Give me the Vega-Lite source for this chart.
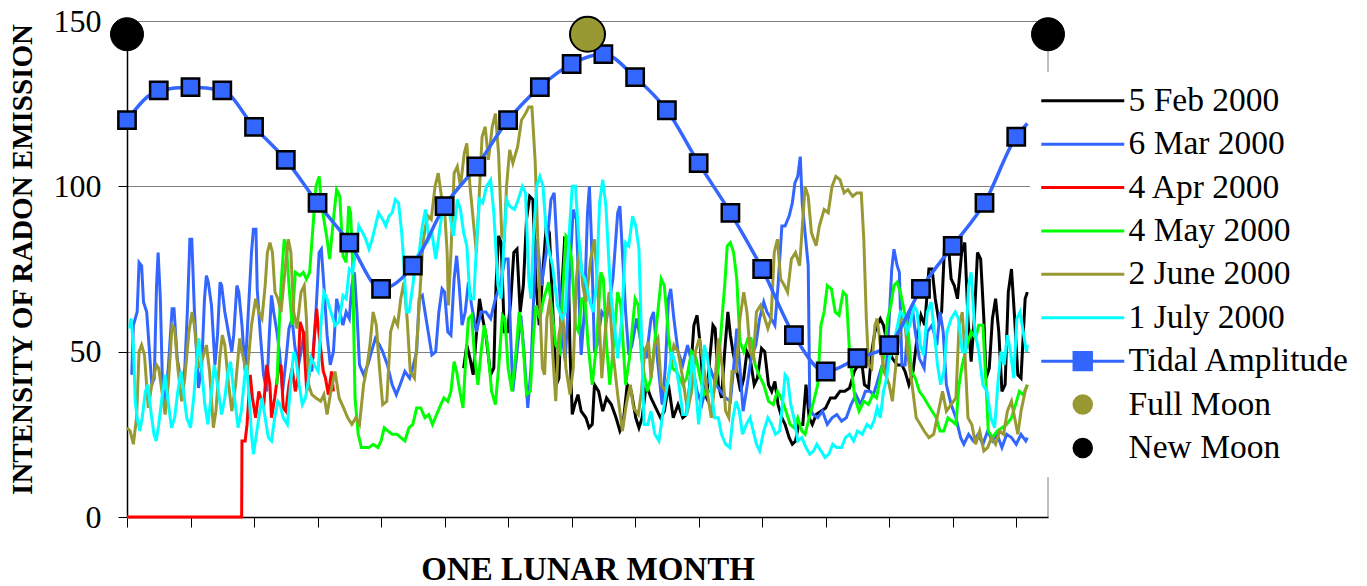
{
"$schema": "https://vega.github.io/schema/vega-lite/v6.json",
"width": 921, "height": 496,
"autosize": {"type": "none"},
"padding": {"left": 127, "top": 21, "right": 319, "bottom": 69},
"background": "white",
"config": {"view": {"stroke": null}},
"datasets": {
"red": [{"d":0,"v":0},{"d":3.61,"v":0},{"d":3.62,"v":23},{"d":3.72,"v":23},{"d":3.78,"v":28},{"d":3.88,"v":43},{"d":3.95,"v":36},{"d":4.05,"v":30},{"d":4.15,"v":38},{"d":4.3,"v":33},{"d":4.4,"v":46},{"d":4.5,"v":40},{"d":4.55,"v":30},{"d":4.65,"v":36},{"d":4.76,"v":44},{"d":4.85,"v":46},{"d":4.92,"v":33},{"d":5.0,"v":32},{"d":5.1,"v":40},{"d":5.2,"v":45},{"d":5.3,"v":38},{"d":5.38,"v":42},{"d":5.45,"v":59},{"d":5.55,"v":56},{"d":5.66,"v":38},{"d":5.75,"v":44},{"d":5.85,"v":48},{"d":5.97,"v":63},{"d":6.05,"v":55},{"d":6.18,"v":44},{"d":6.25,"v":42},{"d":6.34,"v":37},{"d":6.44,"v":44},{"d":6.5,"v":38}],
"mar": [{"d":0.15,"v":43},{"d":0.2,"v":58},{"d":0.32,"v":62},{"d":0.38,"v":77},{"d":0.46,"v":76},{"d":0.52,"v":65},{"d":0.62,"v":62},{"d":0.78,"v":40},{"d":0.86,"v":42},{"d":0.93,"v":70},{"d":0.98,"v":80},{"d":1.05,"v":66},{"d":1.12,"v":39},{"d":1.2,"v":35},{"d":1.3,"v":45},{"d":1.42,"v":63},{"d":1.48,"v":63},{"d":1.58,"v":48},{"d":1.72,"v":40},{"d":1.82,"v":45},{"d":1.9,"v":62},{"d":1.98,"v":84},{"d":2.04,"v":84},{"d":2.12,"v":63},{"d":2.25,"v":39},{"d":2.35,"v":45},{"d":2.44,"v":66},{"d":2.5,"v":73},{"d":2.56,"v":71},{"d":2.66,"v":64},{"d":2.77,"v":46},{"d":2.85,"v":55},{"d":2.93,"v":71},{"d":2.98,"v":70},{"d":3.08,"v":62},{"d":3.3,"v":50},{"d":3.36,"v":55},{"d":3.46,"v":70},{"d":3.52,"v":68},{"d":3.62,"v":58},{"d":3.72,"v":44},{"d":3.82,"v":62},{"d":3.92,"v":80},{"d":3.98,"v":87},{"d":4.06,"v":87},{"d":4.1,"v":69},{"d":4.2,"v":55},{"d":4.3,"v":43},{"d":4.4,"v":38},{"d":4.48,"v":55},{"d":4.55,"v":67},{"d":4.62,"v":62},{"d":4.72,"v":56},{"d":4.8,"v":50},{"d":4.9,"v":38},{"d":5.0,"v":47},{"d":5.1,"v":57},{"d":5.2,"v":60},{"d":5.28,"v":52},{"d":5.38,"v":45},{"d":5.48,"v":50},{"d":5.58,"v":56},{"d":5.7,"v":48},{"d":5.82,"v":44},{"d":5.95,"v":62},{"d":6.05,"v":80},{"d":6.12,"v":81},{"d":6.2,"v":70},{"d":6.3,"v":55},{"d":6.4,"v":46},{"d":6.5,"v":50},{"d":6.6,"v":66},{"d":6.7,"v":62},{"d":6.8,"v":58},{"d":6.9,"v":62},{"d":7.0,"v":60},{"d":7.08,"v":70},{"d":7.16,"v":74},{"d":7.24,"v":62},{"d":7.32,"v":46},{"d":7.45,"v":43},{"d":7.58,"v":46},{"d":7.7,"v":50},{"d":7.82,"v":54},{"d":7.95,"v":52},{"d":8.05,"v":50},{"d":8.2,"v":46},{"d":8.35,"v":40},{"d":8.48,"v":37},{"d":8.6,"v":40},{"d":8.75,"v":44},{"d":8.9,"v":42},{"d":9.02,"v":46},{"d":9.12,"v":50},{"d":9.2,"v":66},{"d":9.3,"v":67},{"d":9.4,"v":61},{"d":9.5,"v":55},{"d":9.6,"v":49},{"d":9.72,"v":50},{"d":9.82,"v":62},{"d":9.92,"v":69},{"d":10.0,"v":68},{"d":10.1,"v":56},{"d":10.2,"v":55},{"d":10.3,"v":72},{"d":10.38,"v":79},{"d":10.46,"v":70},{"d":10.55,"v":58},{"d":10.65,"v":62},{"d":10.75,"v":71},{"d":10.85,"v":64},{"d":11.0,"v":56},{"d":11.15,"v":62},{"d":11.3,"v":62},{"d":11.45,"v":60},{"d":11.6,"v":66},{"d":11.75,"v":70},{"d":11.9,"v":78},{"d":12.0,"v":78},{"d":12.08,"v":55},{"d":12.15,"v":38},{"d":12.28,"v":50},{"d":12.4,"v":61},{"d":12.5,"v":50},{"d":12.62,"v":33},{"d":12.72,"v":45},{"d":12.82,"v":70},{"d":12.9,"v":84},{"d":12.98,"v":78},{"d":13.05,"v":70},{"d":13.2,"v":80},{"d":13.35,"v":96},{"d":13.45,"v":98},{"d":13.55,"v":80},{"d":13.7,"v":55},{"d":13.8,"v":47},{"d":13.92,"v":70},{"d":14.05,"v":93},{"d":14.15,"v":90},{"d":14.22,"v":70},{"d":14.3,"v":49},{"d":14.4,"v":62},{"d":14.5,"v":92},{"d":14.56,"v":100},{"d":14.62,"v":85},{"d":14.72,"v":50},{"d":14.8,"v":52},{"d":14.95,"v":62},{"d":15.1,"v":60},{"d":15.3,"v":72},{"d":15.45,"v":92},{"d":15.52,"v":94},{"d":15.6,"v":80},{"d":15.7,"v":62},{"d":15.8,"v":49},{"d":15.9,"v":52},{"d":16.05,"v":60},{"d":16.2,"v":52},{"d":16.35,"v":48},{"d":16.5,"v":60},{"d":16.58,"v":62},{"d":16.7,"v":48},{"d":16.85,"v":34},{"d":16.95,"v":45},{"d":17.05,"v":66},{"d":17.12,"v":69},{"d":17.22,"v":60},{"d":17.35,"v":50},{"d":17.5,"v":46},{"d":17.65,"v":52},{"d":17.8,"v":46},{"d":17.95,"v":38},{"d":18.1,"v":34},{"d":18.25,"v":40},{"d":18.4,"v":44},{"d":18.55,"v":40},{"d":18.7,"v":38},{"d":18.85,"v":36},{"d":19.0,"v":35},{"d":19.1,"v":45},{"d":19.2,"v":57},{"d":19.3,"v":45},{"d":19.4,"v":32},{"d":19.5,"v":38},{"d":19.65,"v":48},{"d":19.8,"v":52},{"d":19.92,"v":60},{"d":20.05,"v":65},{"d":20.15,"v":62},{"d":20.28,"v":60},{"d":20.4,"v":58},{"d":20.5,"v":70},{"d":20.62,"v":88},{"d":20.72,"v":88},{"d":20.85,"v":91},{"d":20.95,"v":95},{"d":21.03,"v":101},{"d":21.12,"v":103},{"d":21.2,"v":109},{"d":21.26,"v":95},{"d":21.35,"v":86},{"d":21.45,"v":76},{"d":21.5,"v":33},{"d":21.6,"v":31},{"d":21.75,"v":30},{"d":21.9,"v":32},{"d":22.05,"v":28},{"d":22.2,"v":30},{"d":22.35,"v":31},{"d":22.5,"v":29},{"d":22.65,"v":30},{"d":22.8,"v":34},{"d":22.95,"v":37},{"d":23.1,"v":34},{"d":23.25,"v":38},{"d":23.4,"v":38},{"d":23.5,"v":37},{"d":23.6,"v":40},{"d":23.75,"v":45},{"d":23.9,"v":43},{"d":24.0,"v":60},{"d":24.08,"v":75},{"d":24.15,"v":81},{"d":24.25,"v":76},{"d":24.32,"v":74},{"d":24.4,"v":46},{"d":24.5,"v":46},{"d":24.6,"v":60},{"d":24.72,"v":64},{"d":24.82,"v":56},{"d":24.95,"v":48},{"d":25.1,"v":45},{"d":25.2,"v":56},{"d":25.35,"v":58},{"d":25.5,"v":52},{"d":25.6,"v":62},{"d":25.7,"v":56},{"d":25.8,"v":40},{"d":25.95,"v":34},{"d":26.1,"v":30},{"d":26.25,"v":24},{"d":26.35,"v":22},{"d":26.5,"v":25},{"d":26.65,"v":23},{"d":26.8,"v":25},{"d":26.95,"v":22},{"d":27.1,"v":26},{"d":27.25,"v":23},{"d":27.4,"v":25},{"d":27.55,"v":21},{"d":27.7,"v":25},{"d":27.85,"v":24},{"d":28.0,"v":22},{"d":28.15,"v":25},{"d":28.3,"v":23},{"d":28.35,"v":24}],
"jun": [{"d":0.0,"v":27},{"d":0.1,"v":26},{"d":0.2,"v":22},{"d":0.3,"v":30},{"d":0.38,"v":50},{"d":0.46,"v":52},{"d":0.55,"v":49},{"d":0.67,"v":33},{"d":0.78,"v":40},{"d":0.93,"v":46},{"d":1.0,"v":45},{"d":1.1,"v":38},{"d":1.2,"v":31},{"d":1.3,"v":40},{"d":1.42,"v":58},{"d":1.5,"v":57},{"d":1.6,"v":45},{"d":1.72,"v":35},{"d":1.82,"v":42},{"d":1.95,"v":56},{"d":2.05,"v":62},{"d":2.12,"v":58},{"d":2.25,"v":45},{"d":2.38,"v":48},{"d":2.5,"v":52},{"d":2.6,"v":44},{"d":2.72,"v":27},{"d":2.8,"v":32},{"d":2.92,"v":48},{"d":3.0,"v":55},{"d":3.08,"v":52},{"d":3.2,"v":40},{"d":3.3,"v":32},{"d":3.42,"v":40},{"d":3.55,"v":54},{"d":3.62,"v":50},{"d":3.78,"v":43},{"d":3.92,"v":58},{"d":4.05,"v":66},{"d":4.15,"v":62},{"d":4.25,"v":60},{"d":4.35,"v":70},{"d":4.42,"v":80},{"d":4.5,"v":83},{"d":4.58,"v":80},{"d":4.66,"v":68},{"d":4.75,"v":66},{"d":4.85,"v":62},{"d":4.98,"v":75},{"d":5.08,"v":84},{"d":5.16,"v":80},{"d":5.25,"v":62},{"d":5.35,"v":57},{"d":5.48,"v":68},{"d":5.58,"v":70},{"d":5.65,"v":60},{"d":5.72,"v":40},{"d":5.82,"v":37},{"d":5.95,"v":36},{"d":6.1,"v":35},{"d":6.2,"v":37},{"d":6.3,"v":31},{"d":6.42,"v":38},{"d":6.55,"v":44},{"d":6.68,"v":36},{"d":6.82,"v":33},{"d":6.95,"v":30},{"d":7.08,"v":28},{"d":7.2,"v":30},{"d":7.32,"v":28},{"d":7.45,"v":40},{"d":7.55,"v":45},{"d":7.65,"v":52},{"d":7.75,"v":62},{"d":7.85,"v":58},{"d":7.95,"v":45},{"d":8.05,"v":34},{"d":8.18,"v":35},{"d":8.3,"v":56},{"d":8.42,"v":60},{"d":8.52,"v":58},{"d":8.62,"v":66},{"d":8.72,"v":71},{"d":8.82,"v":60},{"d":8.92,"v":44},{"d":9.05,"v":42},{"d":9.15,"v":56},{"d":9.25,"v":72},{"d":9.32,"v":83},{"d":9.4,"v":88},{"d":9.48,"v":91},{"d":9.58,"v":90},{"d":9.7,"v":100},{"d":9.8,"v":104},{"d":9.9,"v":97},{"d":10.0,"v":93},{"d":10.08,"v":80},{"d":10.12,"v":64},{"d":10.2,"v":80},{"d":10.3,"v":104},{"d":10.4,"v":106},{"d":10.5,"v":100},{"d":10.62,"v":110},{"d":10.7,"v":113},{"d":10.8,"v":100},{"d":10.9,"v":90},{"d":11.0,"v":80},{"d":11.08,"v":95},{"d":11.18,"v":115},{"d":11.28,"v":118},{"d":11.38,"v":108},{"d":11.5,"v":118},{"d":11.6,"v":122},{"d":11.7,"v":110},{"d":11.8,"v":85},{"d":11.88,"v":84},{"d":11.95,"v":100},{"d":12.05,"v":111},{"d":12.15,"v":107},{"d":12.3,"v":112},{"d":12.42,"v":120},{"d":12.55,"v":122},{"d":12.65,"v":124},{"d":12.75,"v":124},{"d":12.85,"v":108},{"d":12.95,"v":80},{"d":13.0,"v":64},{"d":13.08,"v":45},{"d":13.15,"v":43},{"d":13.22,"v":60},{"d":13.32,"v":66},{"d":13.4,"v":50},{"d":13.5,"v":35},{"d":13.6,"v":55},{"d":13.72,"v":62},{"d":13.82,"v":45},{"d":13.95,"v":37},{"d":14.05,"v":45},{"d":14.15,"v":72},{"d":14.25,"v":82},{"d":14.35,"v":70},{"d":14.45,"v":65},{"d":14.6,"v":78},{"d":14.72,"v":84},{"d":14.82,"v":70},{"d":14.95,"v":42},{"d":15.05,"v":55},{"d":15.18,"v":68},{"d":15.3,"v":50},{"d":15.45,"v":37},{"d":15.6,"v":26},{"d":15.72,"v":34},{"d":15.85,"v":40},{"d":15.95,"v":33},{"d":16.1,"v":31},{"d":16.2,"v":38},{"d":16.3,"v":50},{"d":16.42,"v":53},{"d":16.5,"v":42},{"d":16.62,"v":52},{"d":16.72,"v":54},{"d":16.82,"v":40},{"d":16.95,"v":38},{"d":17.1,"v":45},{"d":17.22,"v":52},{"d":17.35,"v":50},{"d":17.5,"v":42},{"d":17.65,"v":32},{"d":17.78,"v":38},{"d":17.9,"v":50},{"d":18.02,"v":54},{"d":18.15,"v":46},{"d":18.28,"v":37},{"d":18.4,"v":30},{"d":18.52,"v":42},{"d":18.62,"v":54},{"d":18.75,"v":45},{"d":18.85,"v":32},{"d":18.95,"v":30},{"d":19.05,"v":44},{"d":19.18,"v":44},{"d":19.3,"v":60},{"d":19.42,"v":68},{"d":19.52,"v":62},{"d":19.62,"v":50},{"d":19.72,"v":48},{"d":19.82,"v":62},{"d":19.95,"v":64},{"d":20.05,"v":61},{"d":20.18,"v":57},{"d":20.28,"v":60},{"d":20.38,"v":80},{"d":20.48,"v":84},{"d":20.58,"v":72},{"d":20.7,"v":70},{"d":20.8,"v":68},{"d":20.92,"v":78},{"d":21.05,"v":80},{"d":21.18,"v":76},{"d":21.28,"v":90},{"d":21.35,"v":100},{"d":21.45,"v":97},{"d":21.55,"v":86},{"d":21.7,"v":82},{"d":21.8,"v":88},{"d":21.95,"v":93},{"d":22.08,"v":92},{"d":22.2,"v":100},{"d":22.32,"v":103},{"d":22.45,"v":102},{"d":22.58,"v":98},{"d":22.7,"v":99},{"d":22.85,"v":97},{"d":22.98,"v":98},{"d":23.12,"v":98},{"d":23.2,"v":84},{"d":23.28,"v":60},{"d":23.35,"v":46},{"d":23.45,"v":45},{"d":23.55,"v":58},{"d":23.62,"v":60},{"d":23.72,"v":52},{"d":23.85,"v":44},{"d":24.0,"v":40},{"d":24.1,"v":35},{"d":24.25,"v":50},{"d":24.38,"v":60},{"d":24.48,"v":60},{"d":24.6,"v":48},{"d":24.72,"v":40},{"d":24.85,"v":30},{"d":24.98,"v":28},{"d":25.1,"v":26},{"d":25.25,"v":24},{"d":25.4,"v":25},{"d":25.55,"v":32},{"d":25.68,"v":38},{"d":25.8,"v":32},{"d":25.95,"v":34},{"d":26.1,"v":36},{"d":26.2,"v":58},{"d":26.3,"v":62},{"d":26.38,"v":50},{"d":26.48,"v":30},{"d":26.6,"v":28},{"d":26.72,"v":22},{"d":26.85,"v":26},{"d":26.98,"v":20},{"d":27.1,"v":21},{"d":27.22,"v":24},{"d":27.35,"v":22},{"d":27.48,"v":26},{"d":27.6,"v":25},{"d":27.72,"v":32},{"d":27.85,"v":35},{"d":27.95,"v":30},{"d":28.05,"v":25},{"d":28.15,"v":32},{"d":28.28,"v":38},{"d":28.35,"v":40}],
"jul": [{"d":0.08,"v":57},{"d":0.13,"v":60},{"d":0.2,"v":52},{"d":0.26,"v":35},{"d":0.32,"v":30},{"d":0.4,"v":26},{"d":0.48,"v":30},{"d":0.58,"v":38},{"d":0.66,"v":40},{"d":0.75,"v":32},{"d":0.85,"v":25},{"d":0.92,"v":23},{"d":1.0,"v":28},{"d":1.1,"v":36},{"d":1.2,"v":43},{"d":1.28,"v":36},{"d":1.4,"v":27},{"d":1.5,"v":30},{"d":1.6,"v":38},{"d":1.7,"v":44},{"d":1.78,"v":38},{"d":1.88,"v":30},{"d":2.0,"v":27},{"d":2.1,"v":36},{"d":2.2,"v":48},{"d":2.26,"v":54},{"d":2.35,"v":45},{"d":2.45,"v":34},{"d":2.55,"v":28},{"d":2.65,"v":37},{"d":2.75,"v":46},{"d":2.85,"v":40},{"d":2.98,"v":31},{"d":3.08,"v":36},{"d":3.18,"v":44},{"d":3.26,"v":47},{"d":3.36,"v":38},{"d":3.5,"v":27},{"d":3.6,"v":32},{"d":3.7,"v":42},{"d":3.76,"v":46},{"d":3.85,"v":36},{"d":3.92,"v":25},{"d":3.98,"v":19},{"d":4.06,"v":24},{"d":4.15,"v":30},{"d":4.25,"v":36},{"d":4.35,"v":30},{"d":4.45,"v":24},{"d":4.55,"v":23},{"d":4.65,"v":30},{"d":4.75,"v":35},{"d":4.82,"v":34},{"d":4.92,"v":30},{"d":5.05,"v":28},{"d":5.15,"v":40},{"d":5.25,"v":50},{"d":5.32,"v":48},{"d":5.42,"v":40},{"d":5.52,"v":34},{"d":5.62,"v":36},{"d":5.72,"v":42},{"d":5.8,"v":48},{"d":5.9,"v":46},{"d":6.02,"v":44},{"d":6.12,"v":60},{"d":6.2,"v":68},{"d":6.3,"v":66},{"d":6.42,"v":62},{"d":6.55,"v":58},{"d":6.68,"v":59},{"d":6.8,"v":67},{"d":6.9,"v":66},{"d":7.0,"v":75},{"d":7.1,"v":74},{"d":7.2,"v":80},{"d":7.3,"v":88},{"d":7.42,"v":86},{"d":7.52,"v":84},{"d":7.62,"v":81},{"d":7.72,"v":84},{"d":7.82,"v":88},{"d":7.92,"v":92},{"d":8.05,"v":90},{"d":8.15,"v":88},{"d":8.25,"v":91},{"d":8.35,"v":92},{"d":8.45,"v":96},{"d":8.55,"v":95},{"d":8.65,"v":86},{"d":8.72,"v":76},{"d":8.8,"v":62},{"d":8.88,"v":62},{"d":9.0,"v":70},{"d":9.1,"v":78},{"d":9.2,"v":80},{"d":9.3,"v":88},{"d":9.4,"v":93},{"d":9.5,"v":84},{"d":9.6,"v":86},{"d":9.72,"v":78},{"d":9.82,"v":85},{"d":9.95,"v":94},{"d":10.05,"v":95},{"d":10.15,"v":92},{"d":10.28,"v":85},{"d":10.4,"v":96},{"d":10.5,"v":93},{"d":10.6,"v":86},{"d":10.7,"v":82},{"d":10.8,"v":66},{"d":10.92,"v":66},{"d":11.02,"v":85},{"d":11.1,"v":96},{"d":11.2,"v":95},{"d":11.32,"v":100},{"d":11.45,"v":102},{"d":11.55,"v":92},{"d":11.68,"v":70},{"d":11.78,"v":66},{"d":11.88,"v":85},{"d":11.95,"v":96},{"d":12.05,"v":94},{"d":12.2,"v":93},{"d":12.32,"v":96},{"d":12.45,"v":100},{"d":12.55,"v":98},{"d":12.65,"v":72},{"d":12.72,"v":66},{"d":12.8,"v":85},{"d":12.9,"v":100},{"d":13.0,"v":103},{"d":13.1,"v":100},{"d":13.2,"v":86},{"d":13.3,"v":80},{"d":13.4,"v":76},{"d":13.55,"v":64},{"d":13.7,"v":60},{"d":13.8,"v":62},{"d":13.92,"v":85},{"d":14.02,"v":100},{"d":14.12,"v":100},{"d":14.22,"v":85},{"d":14.32,"v":74},{"d":14.42,"v":72},{"d":14.55,"v":66},{"d":14.68,"v":62},{"d":14.78,"v":70},{"d":14.88,"v":95},{"d":14.98,"v":102},{"d":15.08,"v":94},{"d":15.18,"v":76},{"d":15.25,"v":66},{"d":15.35,"v":58},{"d":15.45,"v":48},{"d":15.58,"v":60},{"d":15.7,"v":83},{"d":15.8,"v":82},{"d":15.92,"v":91},{"d":16.02,"v":88},{"d":16.12,"v":81},{"d":16.2,"v":55},{"d":16.28,"v":28},{"d":16.4,"v":28},{"d":16.5,"v":32},{"d":16.62,"v":25},{"d":16.75,"v":23},{"d":16.85,"v":30},{"d":16.95,"v":36},{"d":17.05,"v":42},{"d":17.15,"v":50},{"d":17.28,"v":46},{"d":17.38,"v":40},{"d":17.5,"v":31},{"d":17.62,"v":31},{"d":17.72,"v":40},{"d":17.8,"v":49},{"d":17.9,"v":40},{"d":18.0,"v":28},{"d":18.1,"v":38},{"d":18.18,"v":52},{"d":18.28,"v":48},{"d":18.38,"v":40},{"d":18.5,"v":30},{"d":18.62,"v":30},{"d":18.72,"v":25},{"d":18.85,"v":22},{"d":18.98,"v":21},{"d":19.08,"v":30},{"d":19.18,"v":35},{"d":19.28,"v":32},{"d":19.38,"v":25},{"d":19.5,"v":28},{"d":19.62,"v":30},{"d":19.72,"v":26},{"d":19.82,"v":22},{"d":19.92,"v":20},{"d":20.05,"v":26},{"d":20.18,"v":30},{"d":20.3,"v":28},{"d":20.42,"v":25},{"d":20.55,"v":26},{"d":20.65,"v":35},{"d":20.72,"v":43},{"d":20.8,"v":42},{"d":20.9,"v":34},{"d":21.0,"v":30},{"d":21.12,"v":23},{"d":21.25,"v":24},{"d":21.38,"v":21},{"d":21.5,"v":19},{"d":21.62,"v":20},{"d":21.72,"v":22},{"d":21.85,"v":20},{"d":21.98,"v":18},{"d":22.1,"v":19},{"d":22.22,"v":22},{"d":22.35,"v":21},{"d":22.5,"v":21},{"d":22.62,"v":24},{"d":22.75,"v":25},{"d":22.88,"v":23},{"d":23.0,"v":26},{"d":23.15,"v":25},{"d":23.3,"v":28},{"d":23.42,"v":27},{"d":23.52,"v":29},{"d":23.62,"v":33},{"d":23.72,"v":30},{"d":23.82,"v":38},{"d":23.92,"v":42},{"d":24.0,"v":48},{"d":24.1,"v":50},{"d":24.22,"v":56},{"d":24.35,"v":62},{"d":24.45,"v":61},{"d":24.55,"v":56},{"d":24.65,"v":58},{"d":24.78,"v":64},{"d":24.88,"v":62},{"d":24.98,"v":52},{"d":25.08,"v":49},{"d":25.2,"v":62},{"d":25.32,"v":65},{"d":25.42,"v":56},{"d":25.52,"v":46},{"d":25.62,"v":40},{"d":25.72,"v":44},{"d":25.82,"v":56},{"d":25.95,"v":60},{"d":26.08,"v":62},{"d":26.18,"v":60},{"d":26.3,"v":50},{"d":26.4,"v":50},{"d":26.5,"v":70},{"d":26.58,"v":74},{"d":26.7,"v":56},{"d":26.82,"v":50},{"d":26.95,"v":40},{"d":27.08,"v":38},{"d":27.2,"v":30},{"d":27.32,"v":27},{"d":27.42,"v":40},{"d":27.52,"v":50},{"d":27.62,"v":46},{"d":27.72,"v":55},{"d":27.82,"v":50},{"d":27.92,"v":42},{"d":28.02,"v":60},{"d":28.12,"v":62},{"d":28.22,"v":56},{"d":28.32,"v":50},{"d":28.35,"v":52}],
"may": [{"d":4.72,"v":40},{"d":4.78,"v":55},{"d":4.85,"v":70},{"d":4.95,"v":84},{"d":5.02,"v":82},{"d":5.1,"v":70},{"d":5.2,"v":58},{"d":5.3,"v":74},{"d":5.45,"v":73},{"d":5.55,"v":74},{"d":5.65,"v":72},{"d":5.75,"v":74},{"d":5.85,"v":87},{"d":5.95,"v":100},{"d":6.05,"v":103},{"d":6.12,"v":95},{"d":6.2,"v":90},{"d":6.3,"v":84},{"d":6.38,"v":78},{"d":6.5,"v":90},{"d":6.6,"v":99},{"d":6.7,"v":97},{"d":6.8,"v":79},{"d":6.9,"v":77},{"d":6.98,"v":94},{"d":7.04,"v":92},{"d":7.1,"v":78},{"d":7.18,"v":36},{"d":7.28,"v":25},{"d":7.38,"v":21},{"d":7.5,"v":21},{"d":7.62,"v":21},{"d":7.75,"v":22},{"d":7.9,"v":21},{"d":8.0,"v":23},{"d":8.1,"v":27},{"d":8.22,"v":26},{"d":8.35,"v":25},{"d":8.5,"v":25},{"d":8.62,"v":24},{"d":8.75,"v":23},{"d":8.88,"v":27},{"d":9.0,"v":28},{"d":9.12,"v":33},{"d":9.25,"v":33},{"d":9.38,"v":30},{"d":9.5,"v":31},{"d":9.62,"v":28},{"d":9.75,"v":31},{"d":9.88,"v":34},{"d":9.98,"v":36},{"d":10.1,"v":35},{"d":10.2,"v":38},{"d":10.3,"v":47},{"d":10.38,"v":44},{"d":10.48,"v":38},{"d":10.58,"v":33},{"d":10.65,"v":45},{"d":10.75,"v":60},{"d":10.85,"v":61},{"d":10.95,"v":48},{"d":11.05,"v":40},{"d":11.15,"v":50},{"d":11.25,"v":58},{"d":11.35,"v":52},{"d":11.48,"v":38},{"d":11.6,"v":34},{"d":11.7,"v":45},{"d":11.82,"v":61},{"d":11.9,"v":60},{"d":12.0,"v":45},{"d":12.12,"v":38},{"d":12.25,"v":50},{"d":12.35,"v":62},{"d":12.45,"v":55},{"d":12.58,"v":37},{"d":12.7,"v":38},{"d":12.8,"v":55},{"d":12.88,"v":64},{"d":13.0,"v":60},{"d":13.12,"v":66},{"d":13.28,"v":71},{"d":13.38,"v":62},{"d":13.5,"v":52},{"d":13.62,"v":50},{"d":13.72,"v":68},{"d":13.82,"v":85},{"d":13.9,"v":84},{"d":14.0,"v":78},{"d":14.12,"v":58},{"d":14.22,"v":56},{"d":14.32,"v":66},{"d":14.42,"v":66},{"d":14.52,"v":52},{"d":14.65,"v":40},{"d":14.78,"v":52},{"d":14.92,"v":74},{"d":15.0,"v":72},{"d":15.1,"v":52},{"d":15.2,"v":40},{"d":15.3,"v":50},{"d":15.45,"v":68},{"d":15.55,"v":64},{"d":15.7,"v":40},{"d":15.82,"v":48},{"d":16.0,"v":66},{"d":16.1,"v":64},{"d":16.2,"v":48},{"d":16.38,"v":38},{"d":16.5,"v":42},{"d":16.65,"v":56},{"d":16.82,"v":72},{"d":16.92,"v":70},{"d":17.05,"v":55},{"d":17.18,"v":45},{"d":17.3,"v":44},{"d":17.5,"v":40},{"d":17.62,"v":42},{"d":17.78,"v":50},{"d":17.92,"v":48},{"d":18.05,"v":42},{"d":18.18,"v":37},{"d":18.32,"v":38},{"d":18.48,"v":38},{"d":18.62,"v":45},{"d":18.75,"v":62},{"d":18.82,"v":70},{"d":18.9,"v":82},{"d":19.0,"v":83},{"d":19.1,"v":80},{"d":19.2,"v":72},{"d":19.3,"v":53},{"d":19.42,"v":50},{"d":19.55,"v":54},{"d":19.65,"v":54},{"d":19.78,"v":46},{"d":19.9,"v":43},{"d":20.05,"v":40},{"d":20.2,"v":35},{"d":20.35,"v":34},{"d":20.48,"v":38},{"d":20.6,"v":36},{"d":20.75,"v":32},{"d":20.88,"v":28},{"d":21.0,"v":27},{"d":21.12,"v":30},{"d":21.25,"v":26},{"d":21.35,"v":25},{"d":21.48,"v":30},{"d":21.62,"v":35},{"d":21.75,"v":40},{"d":21.85,"v":58},{"d":21.95,"v":62},{"d":22.05,"v":70},{"d":22.18,"v":69},{"d":22.3,"v":62},{"d":22.42,"v":61},{"d":22.55,"v":68},{"d":22.65,"v":67},{"d":22.75,"v":50},{"d":22.82,"v":44},{"d":22.92,"v":36},{"d":23.05,"v":32},{"d":23.2,"v":35},{"d":23.35,"v":34},{"d":23.48,"v":37},{"d":23.6,"v":36},{"d":23.72,"v":42},{"d":23.85,"v":50},{"d":23.95,"v":60},{"d":24.05,"v":64},{"d":24.15,"v":70},{"d":24.25,"v":71},{"d":24.35,"v":68},{"d":24.48,"v":62},{"d":24.58,"v":58},{"d":24.7,"v":44},{"d":24.82,"v":42},{"d":24.95,"v":38},{"d":25.1,"v":36},{"d":25.22,"v":34},{"d":25.35,"v":32},{"d":25.48,"v":30},{"d":25.6,"v":26},{"d":25.72,"v":26},{"d":25.85,"v":30},{"d":25.98,"v":29},{"d":26.1,"v":28},{"d":26.2,"v":40},{"d":26.3,"v":46},{"d":26.45,"v":52},{"d":26.58,"v":56},{"d":26.72,"v":54},{"d":26.82,"v":58},{"d":26.95,"v":58},{"d":27.05,"v":40},{"d":27.12,"v":26},{"d":27.25,"v":24},{"d":27.4,"v":26},{"d":27.55,"v":27},{"d":27.7,"v":28},{"d":27.85,"v":30},{"d":27.98,"v":34},{"d":28.1,"v":38},{"d":28.22,"v":37},{"d":28.35,"v":40}],
"feb": [{"d":10.6,"v":45},{"d":10.7,"v":52},{"d":10.8,"v":48},{"d":10.9,"v":43},{"d":11.0,"v":55},{"d":11.1,"v":66},{"d":11.2,"v":60},{"d":11.3,"v":55},{"d":11.45,"v":43},{"d":11.55,"v":45},{"d":11.62,"v":70},{"d":11.7,"v":85},{"d":11.78,"v":83},{"d":11.88,"v":56},{"d":11.98,"v":56},{"d":12.08,"v":65},{"d":12.18,"v":80},{"d":12.28,"v":81},{"d":12.38,"v":62},{"d":12.48,"v":70},{"d":12.58,"v":90},{"d":12.68,"v":97},{"d":12.78,"v":96},{"d":12.88,"v":70},{"d":12.98,"v":58},{"d":13.1,"v":75},{"d":13.2,"v":88},{"d":13.3,"v":86},{"d":13.42,"v":60},{"d":13.52,"v":40},{"d":13.6,"v":42},{"d":13.7,"v":70},{"d":13.78,"v":84},{"d":13.88,"v":83},{"d":13.95,"v":50},{"d":14.02,"v":31},{"d":14.1,"v":34},{"d":14.2,"v":37},{"d":14.3,"v":32},{"d":14.45,"v":30},{"d":14.55,"v":27},{"d":14.65,"v":28},{"d":14.72,"v":40},{"d":14.85,"v":38},{"d":14.98,"v":32},{"d":15.1,"v":36},{"d":15.25,"v":34},{"d":15.4,"v":30},{"d":15.52,"v":26},{"d":15.62,"v":28},{"d":15.75,"v":40},{"d":15.88,"v":38},{"d":16.02,"v":30},{"d":16.12,"v":27},{"d":16.22,"v":30},{"d":16.35,"v":40},{"d":16.5,"v":36},{"d":16.65,"v":33},{"d":16.8,"v":30},{"d":16.92,"v":32},{"d":17.05,"v":40},{"d":17.2,"v":30},{"d":17.35,"v":34},{"d":17.5,"v":30},{"d":17.62,"v":31},{"d":17.72,"v":40},{"d":17.85,"v":58},{"d":17.95,"v":61},{"d":18.05,"v":52},{"d":18.15,"v":38},{"d":18.25,"v":36},{"d":18.35,"v":48},{"d":18.45,"v":58},{"d":18.52,"v":57},{"d":18.62,"v":40},{"d":18.72,"v":36},{"d":18.82,"v":50},{"d":18.92,"v":62},{"d":19.0,"v":55},{"d":19.08,"v":50},{"d":19.2,"v":44},{"d":19.32,"v":38},{"d":19.42,"v":42},{"d":19.52,"v":50},{"d":19.62,"v":48},{"d":19.75,"v":40},{"d":19.85,"v":42},{"d":19.98,"v":51},{"d":20.08,"v":50},{"d":20.2,"v":40},{"d":20.3,"v":38},{"d":20.4,"v":41},{"d":20.5,"v":34},{"d":20.62,"v":30},{"d":20.72,"v":28},{"d":20.85,"v":24},{"d":20.95,"v":22},{"d":21.05,"v":23},{"d":21.15,"v":28},{"d":21.28,"v":28},{"d":21.38,"v":40},{"d":21.48,"v":30},{"d":21.58,"v":28},{"d":21.7,"v":31},{"d":21.85,"v":32},{"d":22.0,"v":33},{"d":22.15,"v":36},{"d":22.3,"v":36},{"d":22.45,"v":38},{"d":22.6,"v":38},{"d":22.75,"v":39},{"d":22.9,"v":44},{"d":23.02,"v":46},{"d":23.12,"v":48},{"d":23.22,"v":40},{"d":23.35,"v":39},{"d":23.45,"v":50},{"d":23.55,"v":56},{"d":23.62,"v":58},{"d":23.72,"v":60},{"d":23.82,"v":58},{"d":23.95,"v":52},{"d":24.1,"v":48},{"d":24.25,"v":46},{"d":24.4,"v":46},{"d":24.5,"v":44},{"d":24.62,"v":40},{"d":24.75,"v":44},{"d":24.9,"v":56},{"d":25.0,"v":61},{"d":25.12,"v":58},{"d":25.25,"v":75},{"d":25.35,"v":75},{"d":25.45,"v":66},{"d":25.55,"v":60},{"d":25.65,"v":62},{"d":25.75,"v":84},{"d":25.85,"v":84},{"d":25.95,"v":72},{"d":26.05,"v":70},{"d":26.15,"v":66},{"d":26.28,"v":80},{"d":26.38,"v":83},{"d":26.48,"v":60},{"d":26.58,"v":47},{"d":26.68,"v":60},{"d":26.78,"v":80},{"d":26.88,"v":78},{"d":26.98,"v":60},{"d":27.05,"v":42},{"d":27.15,"v":45},{"d":27.25,"v":60},{"d":27.35,"v":66},{"d":27.45,"v":56},{"d":27.55,"v":38},{"d":27.65,"v":40},{"d":27.75,"v":68},{"d":27.85,"v":75},{"d":27.95,"v":60},{"d":28.05,"v":43},{"d":28.15,"v":42},{"d":28.28,"v":66},{"d":28.35,"v":68}],
"tidal": [{"d":0,"v":120},{"d":1,"v":129},{"d":2,"v":130},{"d":3,"v":129},{"d":4,"v":118},{"d":5,"v":108},{"d":6,"v":95},{"d":7,"v":83},{"d":8,"v":69},{"d":9,"v":76},{"d":10,"v":94},{"d":11,"v":106},{"d":12,"v":120},{"d":13,"v":130},{"d":14,"v":137},{"d":15,"v":140},{"d":16,"v":133},{"d":17,"v":123},{"d":18,"v":107},{"d":19,"v":92},{"d":20,"v":75},{"d":21,"v":55},{"d":22,"v":44},{"d":23,"v":48},{"d":24,"v":52},{"d":25,"v":69},{"d":26,"v":82},{"d":27,"v":95},{"d":28,"v":115},{"d":28.35,"v":119}],
"full": [{"d":14.5,"v":146}],
"new": [{"d":0,"v":146},{"d":29,"v":146}],
"border": [{"d":29}]
},
"layer": [
{"data": {"name": "border"}, "mark": {"type": "rule", "color": "#808080", "strokeWidth": 1}, "encoding": {"x": {"field": "d", "type": "quantitative"}}},
{"data": {"name": "feb"}, "mark": {"type": "line", "strokeWidth": 3},
 "encoding": {
  "x": {"field": "d", "type": "quantitative", "scale": {"domain": [0, 29], "nice": false, "zero": false},
   "axis": {"values": [0,1,2,3,4,5,6,7,8,9,10,11,12,13,14,15,16,17,18,19,20,21,22,23,24,25,26,27,28,29], "labels": false, "grid": false, "tickSize": 10, "tickColor": "black", "tickWidth": 1, "domainColor": "black", "domainWidth": 1.5,
    "title": "ONE LUNAR MONTH", "titleFont": "Liberation Serif", "titleFontSize": 33, "titleFontWeight": "bold", "titleColor": "black", "titleX": 460.5, "titleY": 62, "titleAlign": "center", "titleBaseline": "alphabetic"}},
  "y": {"field": "v", "type": "quantitative", "scale": {"domain": [0, 150], "nice": false},
   "axis": {"values": [0, 50, 100, 150], "grid": true, "gridColor": "#808080", "gridWidth": 1, "tickSize": 9, "tickColor": "black", "domainColor": "black", "domainWidth": 1.5,
    "labelFont": "Liberation Serif", "labelFontSize": 32, "labelColor": "black", "labelPadding": 17,
    "title": "INTENSITY OF RADON EMISSION", "titleFont": "Liberation Serif", "titleFontSize": 29, "titleFontWeight": "bold", "titleColor": "black", "titleAngle": -90, "titleX": -105, "titleY": 238, "titleAlign": "center", "titleBaseline": "middle"}},
  "color": {"datum": "5 Feb 2000", "type": "nominal",
   "scale": {"domain": ["5 Feb 2000", "6 Mar 2000", "4 Apr 2000", "4 May 2000", "2 June 2000", "1 July 2000", "Tidal Amplitude", "Full Moon", "New Moon"],
             "range": ["#000000", "#3366FF", "#FF0000", "#00FF00", "#999933", "#00FFFF", "#3366FF", "#999933", "#000000"]},
   "legend": {"title": null, "orient": "none", "legendX": 903, "legendY": 51, "fillColor": "white", "padding": 12, "strokeColor": null,
     "symbolType": "stroke", "symbolSize": 6889, "symbolStrokeWidth": 3, "symbolOffset": 24,
     "labelFont": "Liberation Serif", "labelFontSize": 33.5, "labelColor": "black", "labelLimit": 400, "labelOffset": 29, "rowPadding": 8.4,
     "encode": {"symbols": {"update": {
       "shape": {"signal": "datum.value === 'Tidal Amplitude' ? 'M-1,0H1M-0.21,-0.21H0.21V0.21H-0.21Z' : ((datum.value === 'Full Moon' || datum.value === 'New Moon') ? 'circle' : 'stroke')"},
       "size": {"signal": "(datum.value === 'Full Moon' || datum.value === 'New Moon') ? 361 : 6889"},
       "fill": {"signal": "datum.value === 'Tidal Amplitude' ? '#3366FF' : (datum.value === 'Full Moon' ? '#999933' : (datum.value === 'New Moon' ? '#000000' : 'transparent'))"},
       "stroke": {"signal": "(datum.value === 'Full Moon' || datum.value === 'New Moon' || datum.value === '5 Feb 2000') ? '#000000' : (datum.value === '4 Apr 2000' ? '#FF0000' : (datum.value === '4 May 2000' ? '#00FF00' : (datum.value === '2 June 2000' ? '#999933' : (datum.value === '1 July 2000' ? '#00FFFF' : '#3366FF'))))"},
       "strokeWidth": {"signal": "(datum.value === 'Full Moon' || datum.value === 'New Moon') ? 1.5 : 3"},
       "opacity": {"value": 1}
     }}}}
  }
 }},
{"data": {"name": "mar"}, "mark": {"type": "line", "strokeWidth": 3}, "encoding": {"x": {"field": "d", "type": "quantitative"}, "y": {"field": "v", "type": "quantitative"}, "color": {"datum": "6 Mar 2000", "type": "nominal"}}},
{"data": {"name": "red"}, "mark": {"type": "line", "strokeWidth": 3}, "encoding": {"x": {"field": "d", "type": "quantitative"}, "y": {"field": "v", "type": "quantitative"}, "color": {"datum": "4 Apr 2000", "type": "nominal"}}},
{"data": {"name": "may"}, "mark": {"type": "line", "strokeWidth": 3}, "encoding": {"x": {"field": "d", "type": "quantitative"}, "y": {"field": "v", "type": "quantitative"}, "color": {"datum": "4 May 2000", "type": "nominal"}}},
{"data": {"name": "jun"}, "mark": {"type": "line", "strokeWidth": 3}, "encoding": {"x": {"field": "d", "type": "quantitative"}, "y": {"field": "v", "type": "quantitative"}, "color": {"datum": "2 June 2000", "type": "nominal"}}},
{"data": {"name": "jul"}, "mark": {"type": "line", "strokeWidth": 3}, "encoding": {"x": {"field": "d", "type": "quantitative"}, "y": {"field": "v", "type": "quantitative"}, "color": {"datum": "1 July 2000", "type": "nominal"}}},
{"data": {"name": "tidal"}, "mark": {"type": "line", "strokeWidth": 3.5, "interpolate": "monotone"}, "encoding": {"x": {"field": "d", "type": "quantitative"}, "y": {"field": "v", "type": "quantitative"}, "color": {"datum": "Tidal Amplitude", "type": "nominal"}}},
{"data": {"name": "tidal"}, "transform": [{"filter": "datum.d <= 28"}], "mark": {"type": "point", "shape": "square", "filled": true, "size": 300, "stroke": "#000000", "strokeWidth": 2.5, "opacity": 1}, "encoding": {"x": {"field": "d", "type": "quantitative"}, "y": {"field": "v", "type": "quantitative"}, "color": {"datum": "Tidal Amplitude", "type": "nominal"}}},
{"data": {"name": "full"}, "mark": {"type": "point", "shape": "circle", "filled": true, "size": 1225, "stroke": "#000000", "strokeWidth": 2, "opacity": 1}, "encoding": {"x": {"field": "d", "type": "quantitative"}, "y": {"field": "v", "type": "quantitative"}, "color": {"datum": "Full Moon", "type": "nominal"}}},
{"data": {"name": "new"}, "mark": {"type": "point", "shape": "circle", "filled": true, "size": 1089, "stroke": "#000000", "strokeWidth": 1, "opacity": 1}, "encoding": {"x": {"field": "d", "type": "quantitative"}, "y": {"field": "v", "type": "quantitative"}, "color": {"datum": "New Moon", "type": "nominal"}}}
]
}
